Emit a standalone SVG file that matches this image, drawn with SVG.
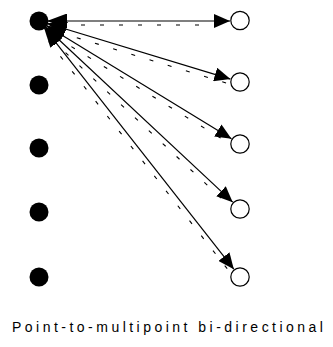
<svg xmlns="http://www.w3.org/2000/svg" width="333" height="347" viewBox="0 0 333 347">
<style>
.src{fill:#000;stroke:none}
.dst{fill:#fff;stroke:#000;stroke-width:1.2}
.link{stroke:#000;stroke-width:1.2;fill:none;marker-start:url(#ahs);marker-end:url(#ah)}
.ret{stroke:#000;stroke-width:1.1;fill:none;stroke-dasharray:4 15}
.lbl{font-family:"Liberation Sans",Arial,sans-serif;font-size:14px;fill:#000}
</style>
<defs>
<marker id="ah" viewBox="0 0 16 14" refX="16" refY="7" markerWidth="16" markerHeight="14" markerUnits="userSpaceOnUse" orient="auto">
<path d="M0,0 L16,7 L0,14 Z" fill="#000"/>
</marker>
<marker id="ahs" viewBox="0 0 20 15" refX="20" refY="7.5" markerWidth="20" markerHeight="15" markerUnits="userSpaceOnUse" orient="auto-start-reverse">
<path d="M0,0 L20,7.5 L0,15 Z" fill="#000"/>
</marker>
</defs>
<rect width="333" height="347" fill="#fff"/>
<g id="connectors">
<line class="link" x1="47" y1="21" x2="230" y2="21"/>
<line class="ret" x1="62" y1="25" x2="224" y2="25"/>
<line class="link" x1="46.6" y1="23.3" x2="230.43" y2="79.10"/>
<line class="ret" x1="58.6" y1="32.2" x2="227.1" y2="83.3"/>
<line class="link" x1="45.8" y1="25.2" x2="231.47" y2="138.78"/>
<line class="ret" x1="55.2" y1="36.7" x2="227.1" y2="142.0"/>
<line class="link" x1="44.8" y1="26.5" x2="232.70" y2="202.17"/>
<line class="ret" x1="51.7" y1="39.7" x2="227.8" y2="204.4"/>
<line class="link" x1="43.9" y1="27.3" x2="233.82" y2="269.14"/>
<line class="ret" x1="48.7" y1="41.4" x2="228.7" y2="270.6"/>
</g>
<g id="src1"><circle class="src" cx="39" cy="21" r="9.5"/></g>
<g id="src2"><circle class="src" cx="39" cy="85" r="9.5"/></g>
<g id="src3"><circle class="src" cx="39" cy="148" r="9.5"/></g>
<g id="src4"><circle class="src" cx="39" cy="212" r="9.5"/></g>
<g id="src5"><circle class="src" cx="39" cy="277" r="9.5"/></g>
<g id="dst1"><circle class="dst" cx="240" cy="20.5" r="9.2"/></g>
<g id="dst2"><circle class="dst" cx="240" cy="82" r="9.2"/></g>
<g id="dst3"><circle class="dst" cx="240" cy="144" r="9.2"/></g>
<g id="dst4"><circle class="dst" cx="240" cy="209" r="9.2"/></g>
<g id="dst5"><circle class="dst" cx="240" cy="277" r="9.2"/></g>
<g id="caption"><text class="lbl" x="12" y="332" textLength="311" lengthAdjust="spacing">Point-to-multipoint bi-directional</text></g>
</svg>
